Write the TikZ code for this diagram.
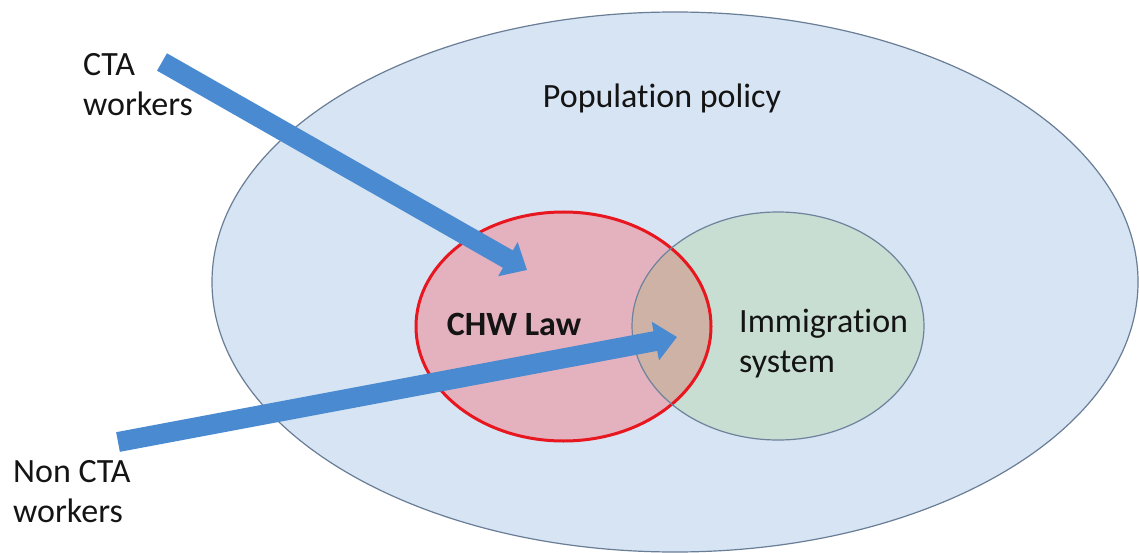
\documentclass[tikz,border=0pt]{standalone}
\usepackage{fontspec}
\setmainfont{Carlito}[Ligatures=NoCommon]
\usetikzlibrary{shapes.geometric,arrows.meta}

\definecolor{popfill}{RGB}{214,228,243}
\definecolor{popline}{RGB}{105,125,150}
\definecolor{lawfill}{RGB}{228,178,190}
\definecolor{lawline}{RGB}{232,22,30}
\definecolor{immfill}{RGB}{200,222,211}
\definecolor{immline}{RGB}{110,130,155}
\definecolor{bothfill}{RGB}{206,178,165}
\definecolor{flowblue}{RGB}{74,138,208}
\definecolor{ink}{RGB}{20,20,20}

\begin{document}
\begin{tikzpicture}[x=1pt,y=-1pt,
  area/.style={ellipse, inner sep=0pt, outer sep=0pt},
  txt/.style={font=\fontsize{34}{40}\selectfont, text=ink, inner sep=0pt, align=left},
  flow/.style={flowblue, line width=20pt, -{Triangle[length=22pt,width=38pt]}}]
\useasboundingbox (0,0) rectangle (1139,553);

% outer region
\node[area, fill=popfill, draw=popline, line width=1.2pt,
      minimum width=926pt, minimum height=540pt] (pop) at (675,282) {};

% the two overlapping regions
\node[area, fill=lawfill, minimum width=295pt, minimum height=229pt] (law) at (563.5,326.5) {};
\node[area, fill=immfill, minimum width=292pt, minimum height=228pt] (imm) at (778,326) {};
\begin{scope}
  \path[clip] (law.center) ellipse [x radius=147.5pt, y radius=114.5pt];
  \fill[bothfill] (imm.center) ellipse [x radius=146pt, y radius=114pt];
\end{scope}
\draw[lawline, line width=3pt] (law.center) ellipse [x radius=147.5pt, y radius=114.5pt];
\draw[immline, line width=1.2pt] (imm.center) ellipse [x radius=146pt, y radius=114pt];

% labels (base anchor of a two-line node sits on its last line)
\node[txt, anchor=base] (poptext) at (662,108) {Population policy};
\node[txt, font=\fontsize{34}{40}\selectfont\bfseries, anchor=base] (lawtext) at (514,335) {CHW Law};
\node[txt, anchor=base west] (immtext) at (739,372) {Immigration\\system};
\node[txt, anchor=base west] (ctatext) at (83,116) {CTA\\workers};
\node[txt, anchor=base west] (nonctatext) at (13,522) {Non CTA\\workers};

% flows of workers
\coordinate (ctatail) at (162,62);
\coordinate (ctatip) at (527,270);
\coordinate (nonctatail) at (118,442);
\coordinate (nonctatip) at (677,337);
\draw[flow] (ctatail) -- (ctatip);
\draw[flow] (nonctatail) -- (nonctatip);
\end{tikzpicture}
\end{document}
